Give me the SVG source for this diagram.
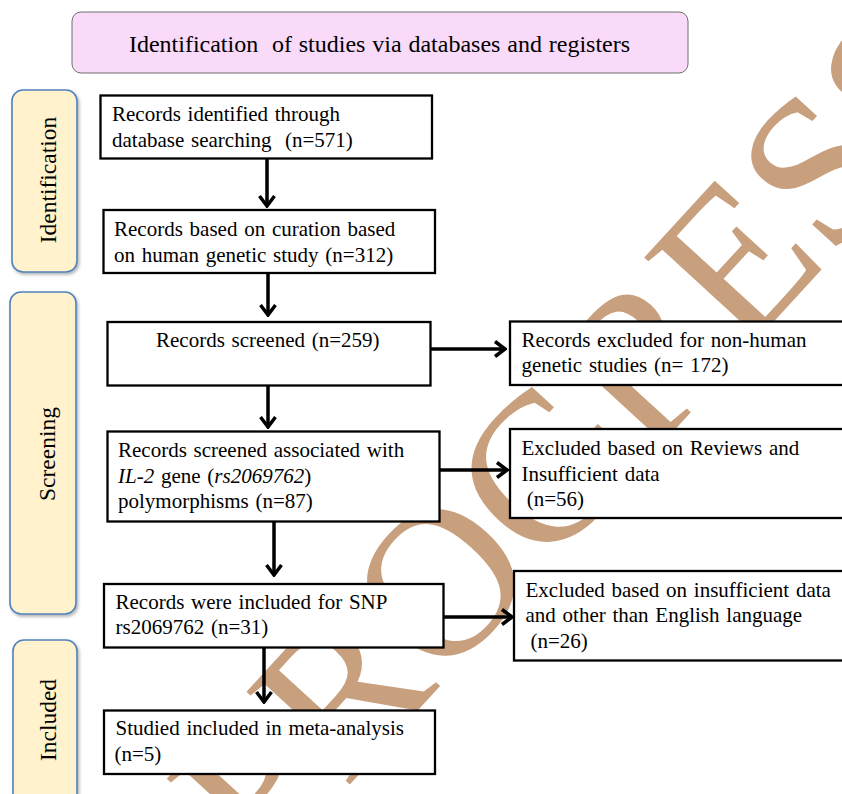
<svg xmlns="http://www.w3.org/2000/svg" width="842" height="794" viewBox="0 0 842 794">
<defs>
<style>
.bx{fill:#fff;stroke:#000;stroke-width:2.3}
.t{font-family:"Liberation Serif","Times New Roman",serif;font-size:21px;fill:#000;word-spacing:1.5px}
.side{fill:#FFF2CC;stroke:#4F81BD;stroke-width:1.6}
.st{font-family:"Liberation Serif","Times New Roman",serif;font-size:23.5px;fill:#000;text-anchor:middle}
.ar{stroke:#000;stroke-width:3.5;fill:none;marker-end:url(#ah)}
.wm{font-family:"Liberation Serif","Times New Roman",serif;font-size:212px;fill:#C9A07E}
</style>
<marker id="ah" markerUnits="userSpaceOnUse" viewBox="0 0 14 18" refX="12" refY="9" markerWidth="14" markerHeight="18" orient="auto">
<path d="M2,1.5 L12,9 L2,16.5" fill="none" stroke="#000" stroke-width="3.5"/>
</marker>
<filter id="sh" x="-20%" y="-20%" width="140%" height="140%">
<feDropShadow dx="1.5" dy="2" stdDeviation="1.5" flood-color="#000" flood-opacity="0.3"/>
</filter>
</defs>
<rect width="842" height="794" fill="#fff"/>
<g id="watermark">
<text class="wm" transform="translate(265,877) rotate(-47.5)">PROGRESS</text>
</g>
<g id="header">
<rect x="72" y="12" width="616" height="61" rx="9" fill="#F9DAF9" stroke="#6F6F6F" stroke-width="1"/>
<text x="379.5" y="52" xml:space="preserve" font-family="Liberation Serif, Times New Roman, serif" font-size="24" word-spacing="0.85" text-anchor="middle">Identification  of studies via databases and registers</text>
</g>
<g id="stage-identification">
<rect class="side" x="12" y="90" width="65" height="182" rx="11" filter="url(#sh)"/>
<text class="st" transform="translate(56,180) rotate(-90)">Identification</text>
</g>
<g id="stage-screening">
<rect class="side" x="10" y="292" width="66" height="322" rx="11" filter="url(#sh)"/>
<text class="st" transform="translate(55,454) rotate(-90)">Screening</text>
</g>
<g id="stage-included">
<rect class="side" x="13" y="640" width="64" height="170" rx="11" filter="url(#sh)"/>
<text class="st" transform="translate(56,720) rotate(-90)">Included</text>
</g>
<g id="connectors">
<line class="ar" x1="267" y1="158" x2="267" y2="206"/>
<line class="ar" x1="268" y1="272" x2="268" y2="315"/>
<line class="ar" x1="431" y1="349" x2="505" y2="349"/>
<line class="ar" x1="268" y1="385" x2="268" y2="427"/>
<line class="ar" x1="439" y1="470" x2="507" y2="470"/>
<line class="ar" x1="274" y1="521" x2="274" y2="575"/>
<line class="ar" x1="443" y1="617" x2="512" y2="617"/>
<line class="ar" x1="264" y1="647" x2="264" y2="702"/>
</g>
<g id="n1">
<rect class="bx" x="100.5" y="95.5" width="331.5" height="63"/>
<text class="t" x="112" y="121">Records identified through</text>
<text class="t" x="112" y="147" xml:space="preserve">database searching  (n=571)</text>
</g>
<g id="n2">
<rect class="bx" x="103.5" y="210" width="331.5" height="63"/>
<text class="t" x="114" y="236">Records based on curation based</text>
<text class="t" x="114" y="262">on human genetic study (n=312)</text>
</g>
<g id="n3">
<rect class="bx" x="107.5" y="322" width="323" height="63.5"/>
<text class="t" x="156" y="347" word-spacing="3.3">Records screened (n=259)</text>
</g>
<g id="n4">
<rect class="bx" x="107.5" y="431.5" width="332" height="90"/>
<text class="t" x="118" y="457" word-spacing="2.7">Records screened associated with</text>
<text class="t" x="118" y="483" word-spacing="4.5"><tspan font-style="italic">IL-2</tspan> gene (<tspan font-style="italic">rs2069762</tspan>)</text>
<text class="t" x="118" y="508" word-spacing="6">polymorphisms (n=87)</text>
</g>
<g id="n5">
<rect class="bx" x="104" y="584" width="339.5" height="63.5"/>
<text class="t" x="115.5" y="609" word-spacing="2">Records were included for SNP</text>
<text class="t" x="115.5" y="634" word-spacing="2.5">rs2069762 (n=31)</text>
</g>
<g id="n6">
<rect class="bx" x="104" y="710.5" width="331" height="63.5"/>
<text class="t" x="115.5" y="735" word-spacing="1">Studied included in meta-analysis</text>
<text class="t" x="114.5" y="761">(n=5)</text>
</g>
<g id="n7">
<rect class="bx" x="510" y="321.5" width="340" height="63.5"/>
<text class="t" x="521.5" y="347">Records excluded for non-human</text>
<text class="t" x="521.5" y="372">genetic studies (n= 172)</text>
</g>
<g id="n8">
<rect class="bx" x="510" y="429" width="340" height="89"/>
<text class="t" x="521.5" y="455">Excluded based on Reviews and</text>
<text class="t" x="521.5" y="481" word-spacing="2.3">Insufficient data</text>
<text class="t" x="526.7" y="506">(n=56)</text>
</g>
<g id="n9">
<rect class="bx" x="514" y="571" width="340" height="89.5"/>
<text class="t" x="525.5" y="597" word-spacing="1.2">Excluded based on insufficient data</text>
<text class="t" x="525.5" y="622" word-spacing="0.7">and other than English language</text>
<text class="t" x="530.5" y="648">(n=26)</text>
</g>
</svg>
